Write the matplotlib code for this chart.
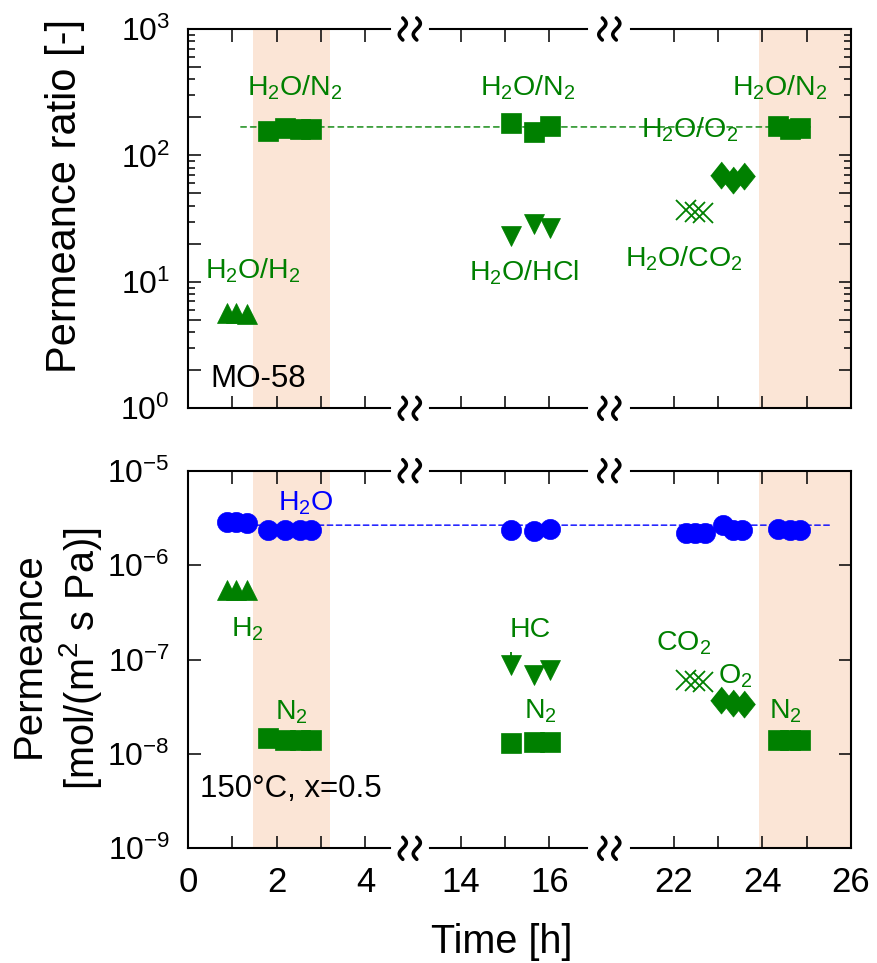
import matplotlib.pyplot as plt
import numpy as np
from matplotlib.patches import ConnectionPatch
from matplotlib.lines import Line2D
from matplotlib.ticker import (LogLocator, LogFormatterSciNotation, MultipleLocator,
                               NullLocator, NullFormatter)

plt.rcParams['font.family'] = ['Liberation Sans', 'DejaVu Sans']
plt.rcParams['mathtext.default'] = 'regular'

# time [h]
t_h2 = [0.88, 1.08, 1.32]
t_n2 = [1.80, 2.18, 2.52, 2.78, 15.13, 15.65, 16.01, 24.35, 24.62, 24.85]
t_hcl = [15.13, 15.65, 16.01]
t_co2 = [22.28, 22.48, 22.66]
t_o2 = [23.07, 23.33, 23.59]
t_h2o = [0.88, 1.08, 1.32, 1.80, 2.18, 2.52, 2.78, 15.13, 15.65, 16.01,
         22.28, 22.48, 22.70, 23.12, 23.33, 23.55, 24.35, 24.62, 24.85]

# permeance ratio H2O/X [-]
ratio_h2 = [5.7, 5.7, 5.6]
ratio_n2 = [156, 165, 162, 162, 180, 154, 171, 171, 161, 165]
ratio_hcl = [23.2, 28.6, 26.9]
ratio_co2 = [37.0, 35.9, 35.0]
ratio_o2 = [70.0, 63.8, 68.7]
ratio_n2_ref = 168
ratio_ref_span = (1.19, 25.11)

# permeance [mol/(m2 s Pa)]
perm_h2o = [2.88e-6, 2.88e-6, 2.77e-6, 2.36e-6, 2.36e-6, 2.36e-6, 2.36e-6,
            2.36e-6, 2.27e-6, 2.39e-6,
            2.20e-6, 2.20e-6, 2.20e-6, 2.66e-6, 2.36e-6, 2.36e-6,
            2.39e-6, 2.36e-6, 2.36e-6]
perm_h2 = [5.45e-7, 5.45e-7, 5.45e-7]
perm_n2 = [1.46e-8, 1.40e-8, 1.42e-8, 1.42e-8, 1.29e-8, 1.35e-8, 1.35e-8,
           1.40e-8, 1.40e-8, 1.40e-8]
perm_hcl = [8.75e-8, 6.86e-8, 7.75e-8]
perm_hcl_upper = 1.2e-7
perm_co2 = [6.0e-8, 5.9e-8, 5.8e-8]
perm_o2 = [3.72e-8, 3.48e-8, 3.38e-8]
perm_h2o_ref = 2.65e-6
perm_ref_span = (0.9, 25.56)

# broken time axis segments and shaded N2 periods
segments = [(0, 4.55), (13.3, 16.85), (21.05, 26)]
shade_spans = [(1.47, 3.2), (23.93, 26)]

G = 'green'
B = 'blue'
SHADE = '#fbe5d6'

W, H = 877, 963
fig = plt.figure(figsize=(W / 100, H / 100), dpi=100)

seg_px = [(188, 389.8), (429.7, 587.1), (631.5, 851)]
row_px = [(29, 408.3), (470.7, 848.3)]


def make_row(y0, y1, ylim, top):
    axs = []
    for i, ((x0, x1), lim) in enumerate(zip(seg_px, segments)):
        ax = fig.add_axes([x0 / W, 1 - y1 / H, (x1 - x0) / W, (y1 - y0) / H])
        ax.patch.set_alpha(0)
        ax.set_xlim(lim)
        ax.set_yscale('log')
        ax.set_ylim(ylim)
        for s in ax.spines.values():
            s.set_linewidth(1.5)
        if i > 0:
            ax.spines['left'].set_visible(False)
        if i < 2:
            ax.spines['right'].set_visible(False)
        ax.xaxis.set_major_locator(MultipleLocator(2))
        ax.xaxis.set_minor_locator(MultipleLocator(1))
        ax.tick_params(axis='x', which='both', direction='in', top=True, bottom=True,
                       length=9, width=1.1, labelsize=25, pad=13,
                       labelbottom=not top)
        if top:
            ax.yaxis.set_major_locator(LogLocator(base=10, subs=(1, 2, 5), numticks=20))
            ax.yaxis.set_major_formatter(LogFormatterSciNotation(labelOnlyBase=True))
            ax.yaxis.set_minor_locator(LogLocator(base=10, subs=(3, 4, 6, 7, 8, 9), numticks=20))
        else:
            ax.yaxis.set_major_locator(LogLocator(base=10, subs=(1,), numticks=20))
            ax.yaxis.set_major_formatter(LogFormatterSciNotation())
            ax.yaxis.set_minor_locator(NullLocator())
        ax.yaxis.set_minor_formatter(NullFormatter())
        ax.tick_params(axis='y', which='major', direction='in', length=9, width=1.1,
                       labelsize=23, pad=13, left=(i == 0), right=(i == 2),
                       labelleft=(i == 0), labelright=False)
        ax.tick_params(axis='y', which='minor', direction='in', length=5, width=1.1,
                       left=(i == 0), right=(i == 2))
        for a, b in shade_spans:
            ax.axvspan(a, b, color=SHADE, lw=0, zorder=0)
        axs.append(ax)
    return axs


axT = make_row(*row_px[0], (1, 1000), True)
axB = make_row(*row_px[1], (1e-9, 1e-5), False)

mk = dict(ls='none', zorder=3)
diamond = [(0, 1), (0.8, 0), (0, -1), (-0.8, 0)]
for ax in axT:
    ax.plot(t_h2, ratio_h2, marker='^', ms=14, color=G, mec=G, mew=0.5, **mk)
    ax.plot(t_n2, ratio_n2, marker='s', ms=14.5, color=G, mec=G, mew=0.5, **mk)
    ax.plot(t_hcl, ratio_hcl, marker='v', ms=14, color=G, mec=G, mew=0.5, **mk)
    ax.plot(t_co2, ratio_co2, marker='x', ms=14, color=G, mew=1.3, **mk)
    ax.plot(t_o2, ratio_o2, marker=diamond, ms=19.5, color=G, mec=G, mew=0.5, **mk)

for ax in axB:
    ax.plot(t_h2o, perm_h2o, marker='o', ms=14.5, color=B, mec=B, mew=0.5, **mk)
    ax.plot(t_h2, perm_h2, marker='^', ms=14, color=G, mec=G, mew=0.5, **mk)
    ax.plot(t_n2, perm_n2, marker='s', ms=14.5, color=G, mec=G, mew=0.5, **mk)
    ax.plot(t_hcl, perm_hcl, marker='v', ms=14, color=G, mec=G, mew=0.5, **mk)
    ax.vlines(t_hcl[0], perm_hcl[0], perm_hcl_upper, color=G, lw=1.3, zorder=3)
    ax.plot(t_co2, perm_co2, marker='x', ms=14, color=G, mew=1.3, **mk)
    ax.plot(t_o2, perm_o2, marker=diamond, ms=19.5, color=G, mec=G, mew=0.5, **mk)

# dashed reference lines running across the breaks
for axs, ref, span, col, dash in [(axT, ratio_n2_ref, ratio_ref_span, G, (4, 3)),
                                  (axB, perm_h2o_ref, perm_ref_span, B, (4, 2.5))]:
    con = ConnectionPatch(xyA=(span[0], ref), coordsA='data', axesA=axs[0],
                          xyB=(span[1], ref), coordsB='data', axesB=axs[2],
                          color=col, lw=1.0, linestyle=(0, dash), zorder=2)
    fig.add_artist(con)

lab = dict(ha='center', va='baseline', fontsize=20.5, color=G)
n2 = r'H$_2$O/N$_2$'
axT[0].text(2.41, 300, n2, **lab)
axT[0].text(1.47, 10.7, r'H$_2$O/H$_2$', **lab)
axT[1].text(15.52, 300, n2, **lab)
axT[1].text(15.44, 10.3, r'H$_2$O/HCl', **lab)
axT[2].text(24.40, 300, n2, **lab)
axT[2].text(22.37, 139, r'H$_2$O/O$_2$', **lab)
axT[2].text(22.23, 13.3, r'H$_2$O/CO$_2$', **lab)
axT[0].text(0.5, 1.48, 'MO-58', ha='left', va='baseline', fontsize=22.5, color='black')

axB[0].text(2.66, 3.77e-6, r'H$_2$O', **{**lab, 'color': B})
axB[0].text(1.33, 1.77e-7, r'H$_2$', **lab)
axB[0].text(2.34, 2.29e-8, r'N$_2$', **lab)
axB[1].text(15.56, 1.75e-7, 'HC', **lab)
axB[1].text(15.79, 2.38e-8, r'N$_2$', **lab)
axB[2].text(22.23, 1.26e-7, r'CO$_2$', **lab)
axB[2].text(23.38, 5.6e-8, r'O$_2$', **lab)
axB[2].text(24.53, 2.38e-8, r'N$_2$', **lab)
axB[0].text(0.27, 3.47e-9, '150°C, x=0.5', ha='left', va='baseline',
            fontsize=22.5, color='black')

# axis labels
fig.text(65 / W, 1 - 196 / H, 'Permeance ratio [-]', rotation=90,
         ha='center', va='center', fontsize=30)
fig.text(29 / W, 1 - 655 / H, 'Permeance', rotation=90,
         ha='center', va='center', fontsize=29)
fig.text(81 / W, 1 - 659 / H, r'[mol/(m$^2$ s Pa)]', rotation=90,
         ha='center', va='center', fontsize=28.5)
fig.text(501.5 / W, 1 - 952.7 / H, 'Time [h]', ha='center', va='baseline', fontsize=28.5)

# break marks on the spines
t = np.linspace(-1, 1, 40)
for xc in (409.8, 609.3):
    for yc in (29, 408.3, 470.7, 848.3):
        for dx in (-7, 7):
            xs = xc + dx - 3.5 * np.sin(np.pi * t)
            ys = yc + 11 * t
            fig.add_artist(Line2D(xs / W, 1 - ys / H, transform=fig.transFigure,
                                  color='black', lw=2.6, solid_capstyle='round'))

fig.savefig('out.png', dpi=100)
